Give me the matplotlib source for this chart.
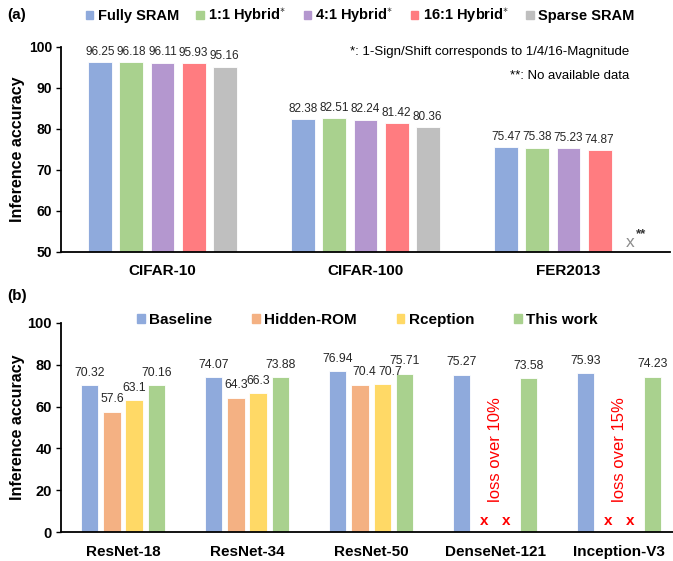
import numpy as np
import matplotlib
matplotlib.use('Agg')
import matplotlib.pyplot as plt
from matplotlib.patches import Patch

plt.rcParams['font.family'] = ['Liberation Sans', 'DejaVu Sans']
plt.rcParams['mathtext.fontset'] = 'custom'
plt.rcParams['mathtext.rm'] = 'Liberation Sans'
plt.rcParams['mathtext.bf'] = 'Liberation Sans:bold'

# ---- Panel (a): datasets ----
datasets = ['CIFAR-10', 'CIFAR-100', 'FER2013']
fully_sram = [96.25, 82.38, 75.47]
hybrid_1_1 = [96.18, 82.51, 75.38]
hybrid_4_1 = [96.11, 82.24, 75.23]
hybrid_16_1 = [95.93, 81.42, 74.87]
sparse_sram = [95.16, 80.36, np.nan]   # FER2013: sin datos
a_labels = ['Fully SRAM', r'1:1 Hybrid$^{\ast}$', r'4:1 Hybrid$^{\ast}$',
            r'16:1 Hybrid$^{\ast}$', 'Sparse SRAM']
a_colors = ['#8faadc', '#a9d18e', '#b497cf', '#ff7c80', '#bfbfbf']

# ---- Panel (b): modelos ----
models = ['ResNet-18', 'ResNet-34', 'ResNet-50', 'DenseNet-121', 'Inception-V3']
baseline = [70.32, 74.07, 76.94, 75.27, 75.93]
hidden_rom = [57.6, 64.3, 70.4, np.nan, np.nan]
rception = [63.1, 66.3, 70.7, np.nan, np.nan]
this_work = [70.16, 73.88, 75.71, 73.58, 74.23]
loss_notes = {3: 'loss over 10%', 4: 'loss over 15%'}
b_labels = ['Baseline', 'Hidden-ROM', 'Rception', 'This work']
b_colors = ['#8faadc', '#f4b183', '#ffd966', '#a9d18e']

# pequeños desplazamientos (pt) de etiquetas que se solapan: (serie, modelo)
label_nudge = {(1, 2): 3, (2, 2): 6}

W, H = 673, 561
fig = plt.figure(figsize=(W / 100, H / 100), dpi=100)


def style_axis(ax, fs_tick):
    for s in ['top', 'right']:
        ax.spines[s].set_visible(False)
    for s in ['left', 'bottom']:
        ax.spines[s].set_linewidth(1.3)
    ax.tick_params(axis='x', length=0, pad=9, labelsize=11)
    ax.tick_params(axis='y', length=3.5, width=1, pad=3, labelsize=fs_tick)
    for lab in ax.get_xticklabels() + ax.get_yticklabels():
        lab.set_fontweight('bold')


# ===================== (a) =====================
ax_a = fig.add_axes([61 / W, 1 - 251.7 / H, 609 / W, 205 / H])
series_a = [fully_sram, hybrid_1_1, hybrid_4_1, hybrid_16_1, sparse_sram]
x_a = np.arange(len(datasets))
pitch_a, width_a = 0.153, 0.118
for k, (vals, col) in enumerate(zip(series_a, a_colors)):
    xs = x_a + (k - 2) * pitch_a
    ax_a.bar(xs, vals, width_a, color=col, edgecolor='white', linewidth=0.6)
    for xi, v in zip(xs, vals):
        if not np.isnan(v):
            ax_a.annotate(f'{v:g}', (xi, v), xytext=(0, 3), textcoords='offset points',
                          ha='center', va='bottom', fontsize=8.5, color='#262626')
# FER2013 sin Sparse SRAM
xx = x_a[2] + 2 * pitch_a
ax_a.text(xx, 50.4, 'x', ha='center', va='bottom', fontsize=12.5, color='#8c8c8c')
ax_a.annotate('**', (xx, 50.4), xytext=(4, 7), textcoords='offset points',
              ha='left', va='bottom', fontsize=9.5, fontweight='bold', color='#333333')
ax_a.set_xlim(-0.5, 2.5)
ax_a.set_ylim(50, 100)
ax_a.set_yticks(range(50, 101, 10))
ax_a.set_xticks(x_a)
ax_a.set_xticklabels(datasets)
ax_a.set_ylabel('Inference accuracy', fontsize=11.5, fontweight='bold')
ax_a.yaxis.set_label_coords(-36 / 609, 0.5)
style_axis(ax_a, 10)

fig.legend([Patch(color=c) for c in a_colors], a_labels, loc='center left',
           bbox_to_anchor=(86 / W, 1 - 16 / H), ncol=5, frameon=False,
           prop={'weight': 'bold', 'size': 10.5}, handlelength=0.5, handleheight=0.5,
           handletextpad=0.3, columnspacing=1.2, borderpad=0, borderaxespad=0)
fig.text(629 / W, 1 - 52 / H, '*: 1-Sign/Shift corresponds to 1/4/16-Magnitude',
         ha='right', va='center', fontsize=9.5)
fig.text(629 / W, 1 - 76 / H, '**: No available data', ha='right', va='center', fontsize=9.5)
fig.text(7 / W, 1 - 15 / H, '(a)', ha='left', va='center', fontsize=11, fontweight='bold')

# ===================== (b) =====================
ax_b = fig.add_axes([61 / W, 1 - 532.3 / H, 612 / W, 209.6 / H])
series_b = [baseline, hidden_rom, rception, this_work]
x_b = np.arange(len(models))
pitch_b, width_b = 0.18, 0.14
for k, (vals, col) in enumerate(zip(series_b, b_colors)):
    xs = x_b + (k - 1.5) * pitch_b
    ax_b.bar(xs, vals, width_b, color=col, edgecolor='white', linewidth=0.6)
    for j, (xi, v) in enumerate(zip(xs, vals)):
        if np.isnan(v):
            ax_b.text(xi, 5.2, 'x', ha='center', va='center', fontsize=11,
                      fontweight='bold', color='red')
        else:
            dx = label_nudge.get((k, j), 0)
            ax_b.annotate(f'{v:g}', (xi, v), xytext=(dx, 4.5), textcoords='offset points',
                          ha='center', va='bottom', fontsize=8.7, color='#262626')
for i, note in loss_notes.items():
    ax_b.text(x_b[i], 14.5, note, rotation=90, ha='center', va='bottom',
              fontsize=12, color='red')
ax_b.set_xlim(-0.5, 4.435)
ax_b.set_ylim(0, 100)
ax_b.set_yticks(range(0, 101, 20))
ax_b.set_xticks(x_b)
ax_b.set_xticklabels(models)
ax_b.set_ylabel('Inference accuracy', fontsize=11.5, fontweight='bold')
ax_b.yaxis.set_label_coords(-36 / 612, 0.5)
style_axis(ax_b, 10.5)

fig.legend([Patch(color=c) for c in b_colors], b_labels, loc='center left',
           bbox_to_anchor=(137 / W, 1 - 320 / H), ncol=4, frameon=False,
           prop={'weight': 'bold', 'size': 11}, handlelength=0.5, handleheight=0.5,
           handletextpad=0.3, columnspacing=2.6, borderpad=0, borderaxespad=0)
fig.text(7 / W, 1 - 296 / H, '(b)', ha='left', va='center', fontsize=11, fontweight='bold')

fig.savefig('out.png', dpi=100)
